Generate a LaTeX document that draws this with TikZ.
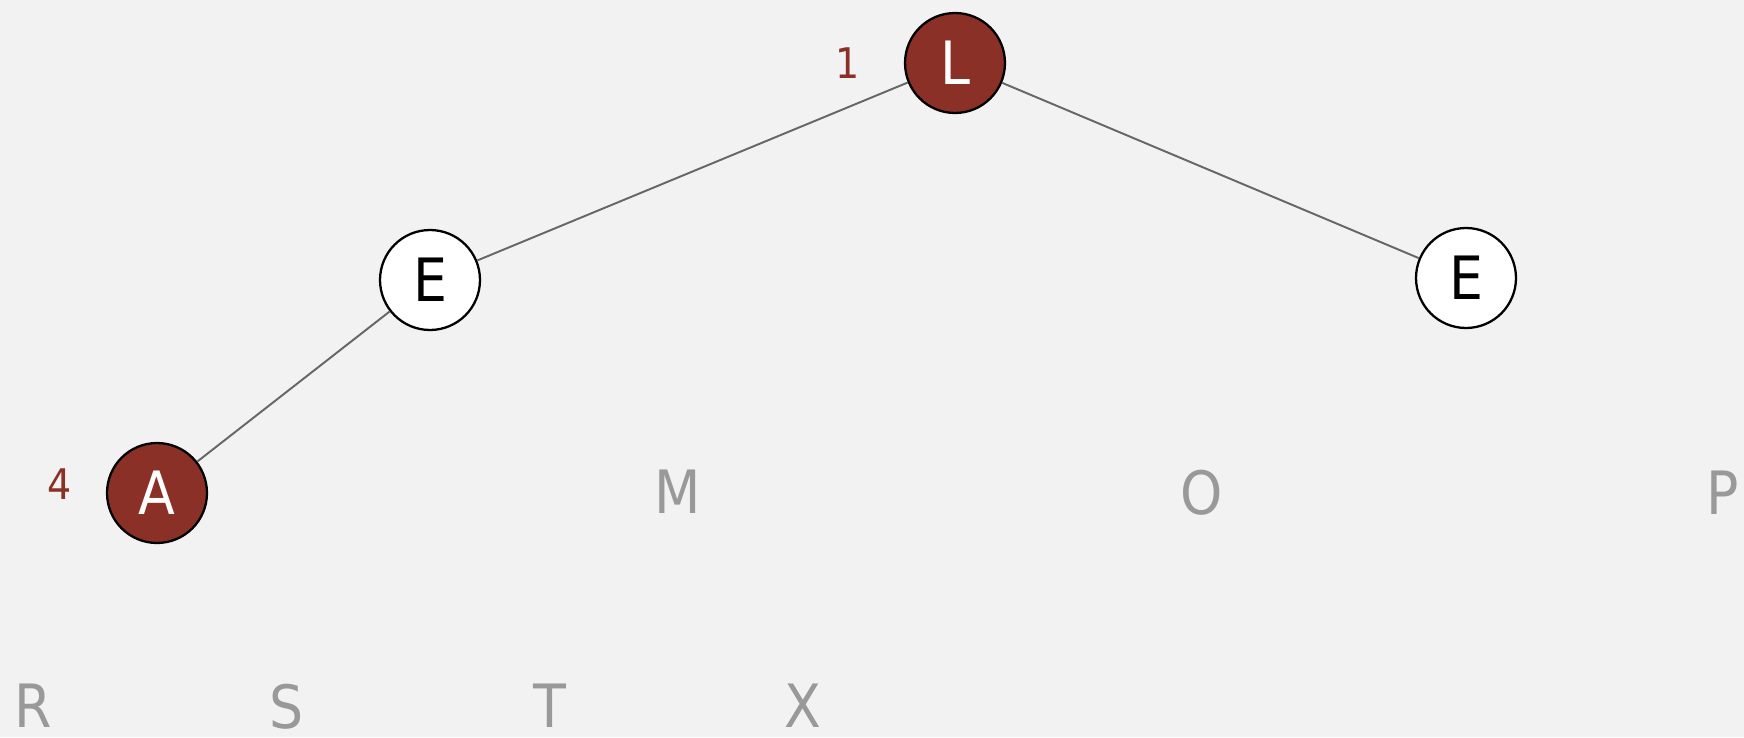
\documentclass[tikz,border=0pt]{standalone}
\usepackage{fontspec}
\usepackage{xcolor}
\newfontfamily\keyfont{DejaVu Sans Condensed}
\definecolor{bgcol}{HTML}{F2F2F2}
\definecolor{keyred}{RGB}{139, 48, 38}
\definecolor{edgegray}{HTML}{666666}
\definecolor{keygray}{HTML}{999999}

\begin{document}
\begin{tikzpicture}[x=0.02cm, y=-0.02cm,
    treenode/.style={circle, draw=black, line width=1.3pt, minimum size=2cm,
      inner sep=0pt, text depth=0pt, font=\keyfont\fontsize{34}{34}\selectfont},
    marked/.style={treenode, fill=keyred, text=white},
    plain/.style={treenode, fill=white, text=black},
    restkey/.style={inner sep=0pt, text depth=0pt, text=keygray,
      font=\keyfont\fontsize{34}{34}\selectfont},
    rank/.style={inner sep=0pt, text depth=0pt, text=keyred,
      font=\keyfont\fontsize{24}{24}\selectfont},
    link/.style={edgegray, line width=1.1pt}]
    \fill[bgcol] (0,0) rectangle (1744,737);
    \useasboundingbox (0,0) rectangle (1744,737);
    % tree
    \node[marked] (l) at (955, 63) {L};
    \node[plain] (e1) at (430, 280) {E};
    \node[plain] (e2) at (1466, 278) {E};
    \node[marked] (a) at (157, 493) {A};
    \draw[link] (l) -- (e1);
    \draw[link] (l) -- (e2);
    \draw[link] (e1) -- (a);
    % ranks
    \node[rank] (r1) at (848, 63) {1};
    \node[rank] (r4) at (60, 484) {4};
    % remaining keys
    \node[restkey] (m) at (678, 492) {M};
    \node[restkey] (o) at (1202, 492) {O};
    \node[restkey] (p) at (1723, 493) {P};
    \node[restkey] (r) at (33, 706) {R};
    \node[restkey] (s) at (287, 706) {S};
    \node[restkey] (t) at (550, 706) {T};
    \node[restkey] (x) at (803, 706) {X};
  \end{tikzpicture}
\end{document}
